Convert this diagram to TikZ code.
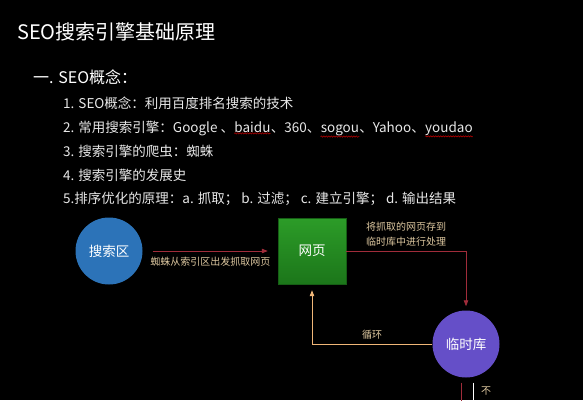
\documentclass[tikz,border=0pt]{standalone}
\usepackage{fontspec}
\setmainfont{Noto Sans CJK SC}
\usetikzlibrary{arrows.meta,decorations.pathmorphing}

\definecolor{searchblue}{RGB}{44,115,184}
\definecolor{tmppurple}{RGB}{101,79,200}
\definecolor{pagetop}{RGB}{44,156,40}
\definecolor{pagebot}{RGB}{28,118,26}
\definecolor{linered}{RGB}{160,44,58}
\definecolor{looporange}{RGB}{240,182,120}
\definecolor{labeltan}{RGB}{222,200,160}
\definecolor{textgray}{RGB}{232,232,232}

\tikzset{
  itemtext/.style={anchor=west,inner sep=0,text=textgray,font=\fontsize{13.5}{16}\selectfont},
  wordpart/.style={itemtext,anchor=base west},
  spellwave/.style={red!75!black,line width=0.5pt,decorate,decoration={snake,amplitude=0.7pt,segment length=2.5pt}},
  bubble/.style={circle,inner sep=0,minimum size=67pt,text=white,font=\fontsize{13.5}{16}\selectfont},
  steplabel/.style={text=labeltan,font=\fontsize{10}{15}\selectfont,align=center},
  tip/.style={-{Triangle[length=6pt,width=4.5pt]}}
}

\begin{document}
\begin{tikzpicture}[x=1pt,y=-1pt]
\fill[black] (0,0) rectangle (583,400);

% title and list
\node[anchor=west,inner sep=0,text=white,font=\fontsize{20}{24}\selectfont] (title) at (17,32) {SEO搜索引擎基础原理};
\node[anchor=west,inner sep=0,text=white,font=\fontsize{16}{20}\selectfont] (concept) at (33,77) {一. SEO概念：};
\node[itemtext] (item1) at (63,103) {1. SEO概念：利用百度排名搜索的技术};
\node[itemtext] (item2) at (63,128) {2. 常用搜索引擎：Google 、};
\node[wordpart] (baidu) at (item2.base east) {baidu};
\node[wordpart] (sep1) at (baidu.base east) {、360、};
\node[wordpart] (sogou) at (sep1.base east) {sogou};
\node[wordpart] (sep2) at (sogou.base east) {、Yahoo、};
\node[wordpart] (youdao) at (sep2.base east) {youdao};
\node[itemtext] (item3) at (63,151) {3. 搜索引擎的爬虫：蜘蛛};
\node[itemtext] (item4) at (63,175) {4. 搜索引擎的发展史};
\node[itemtext] (item5) at (63,199) {5.排序优化的原理：a. 抓取； b. 过滤； c. 建立引擎； d. 输出结果};

% spell check waves
\draw[spellwave] ([yshift=-1pt]baidu.south west) -- ([yshift=-1pt]baidu.south east);
\draw[spellwave] ([yshift=-1pt]sogou.south west) -- ([yshift=-1pt]sogou.south east);
\draw[spellwave] ([yshift=-1pt]youdao.south west) -- ([yshift=-1pt]youdao.south east);

% flow
\node[bubble,fill=searchblue] (search) at (109,251) {搜索区};
\node[minimum width=68pt,minimum height=66pt,inner sep=0,top color=pagetop,bottom color=pagebot,
      draw=pagebot!80!black,text=white,font=\fontsize{13.5}{16}\selectfont] (page) at (312,251) {网页};
\node[bubble,fill=tmppurple] (tmp) at (466,344) {临时库};

\draw[linered,thick,tip,shorten <=10pt,shorten >=10pt] (search.east) -- (page.west)
  node[midway,below=2pt,steplabel] {蜘蛛从索引区出发抓取网页};
\draw[linered,thick,tip,shorten >=4pt] (page.east) -| (tmp.north)
  node[pos=0.25,above=1pt,steplabel] {将抓取的网页存到\\临时库中进行处理};
\draw[looporange,thick,tip,shorten >=6pt] (tmp.west) -| (page.south)
  node[pos=0.25,above=1pt,steplabel] {循环};

\coordinate (outred) at (461,401);
\coordinate (outwhite) at (473,401);
\draw[linered,thick,shorten <=5pt] (tmp.south -| outred) -- (outred);
\draw[white,thick,shorten <=5pt] (tmp.south -| outwhite) -- (outwhite);
\node[steplabel] (nopass) at (486,391) {不};
\end{tikzpicture}
\end{document}
